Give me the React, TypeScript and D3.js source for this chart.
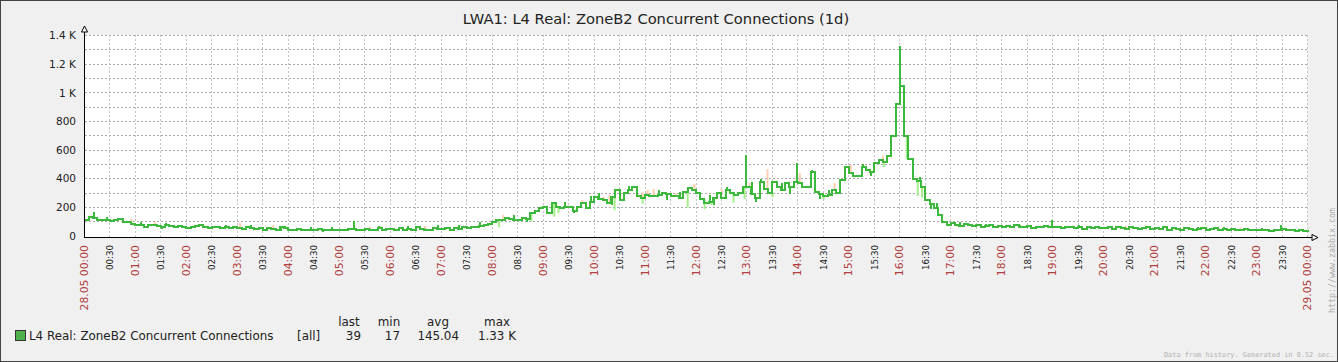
import React from 'react';
import * as d3 from 'd3';

// 5-minute averages, 28.05 00:00 -> 29.05 00:00
const avgValues: number[] = [
  115, 135, 125, 110, 110, 110, 105, 115, 120, 100, 95, 85,
  80, 75, 65, 75, 80, 70, 65, 75, 70, 65, 70, 60,
  55, 65, 70, 75, 60, 55, 60, 65, 55, 60, 55, 60,
  55, 50, 60, 55, 50, 55, 45, 55, 50, 45, 65, 55,
  45, 40, 50, 45, 40, 45, 40, 50, 45, 40, 45, 40,
  45, 40, 50, 50, 45, 40, 50, 45, 40, 55, 45, 50,
  50, 45, 55, 40, 50, 45, 60, 50, 45, 40, 55, 50,
  50, 55, 45, 55, 50, 60, 55, 65, 60, 70, 75, 85,
  95, 110, 115, 125, 120, 110, 115, 125, 120, 160, 175, 195,
  205, 160, 229, 200, 194, 200, 205, 176, 200, 229, 194, 240,
  275, 260, 252, 229, 270, 322, 252, 299, 320, 345, 280, 264,
  287, 276, 280, 287, 299, 290, 276, 280, 264, 310, 333, 320,
  299, 257, 229, 240, 264, 299, 264, 322, 300, 287, 299, 340,
  345, 290, 264, 380, 330, 299, 380, 340, 322, 369, 340, 380,
  369, 340, 345, 450, 310, 290, 276, 287, 322, 300, 392, 485,
  439, 420, 416, 485, 460, 450, 509, 532, 520, 560, 700, 920,
  1050, 700, 540, 400, 385, 340, 250, 225, 195, 150, 95, 80,
  90, 80, 70, 85, 75, 70, 80, 65, 70, 75, 65, 70,
  65, 70, 60, 75, 65, 60, 70, 55, 65, 60, 70, 65,
  65, 60, 55, 65, 60, 55, 60, 50, 65, 55, 60, 55,
  55, 60, 50, 65, 55, 50, 60, 55, 50, 55, 60, 50,
  55, 50, 60, 45, 55, 50, 45, 55, 50, 45, 50, 55,
  45, 50, 55, 45, 50, 40, 50, 45, 40, 50, 45, 40,
  40, 45, 40, 35, 40, 45, 50, 45, 40, 35, 40, 35,
  39,
];

// short bursts drawn in the line colour (up or down from the average)
const spikeTimes = [
  '00:10', '00:25', '00:40', '01:05', '01:30', '01:35', '02:15', '02:45', '03:15', '03:50', '03:55',
  '04:25', '04:40', '04:50', '05:16', '05:45', '06:20', '06:55', '07:20', '07:45', '08:25', '08:40',
  '08:50', '09:10', '09:25', '09:35', '09:55', '10:05', '10:20', '10:25', '10:40', '10:45', '11:15',
  '11:25', '11:40', '11:50', '12:15', '12:20', '12:35', '12:58', '13:05', '13:10', '13:15', '13:40',
  '13:50', '13:58', '14:15', '14:25', '14:35', '14:55', '15:15', '15:25', '15:30', '15:59', '16:22',
  '16:35', '16:42', '17:10', '17:40', '18:20', '18:58', '19:30', '20:15', '21:10', '21:50', '22:20',
  '23:05', '23:28',
];
const spikeValues = [
  165, 130, 125, 100, 50, 90, 85, 80, 75, 35, 70,
  65, 30, 65, 105, 70, 70, 75, 80, 100, 150, 95,
  170, 235, 240, 160, 280, 300, 215, 330, 350, 350, 320,
  250, 310, 345, 285, 215, 340, 567, 380, 240, 395, 370,
  290, 509, 460, 260, 320, 490, 500, 420, 520, 1330, 410,
  190, 230, 95, 85, 80, 112, 75, 70, 65, 65, 60,
  55, 75,
];

// max marks (light orange)
const maxTimes = ['00:05', '00:54', '01:22', '03:02', '03:41', '05:35', '06:40', '08:12', '09:45', '10:10', '10:17', '10:30', '10:56', '11:02', '11:09', '11:35', '11:57', '12:03', '12:29', '13:02', '13:23', '13:30', '13:49', '14:01', '14:42', '15:01', '15:39', '20:25', '22:40'];
const maxValues = [142, 119, 100, 93, 75, 65, 70, 147, 252, 275, 287, 299, 305, 322, 327, 299, 364, 299, 327, 373, 467, 381, 381, 439, 369, 497, 560, 70, 60];

// min marks (light green)
const minTimes = ['08:07', '08:45', '09:12', '09:17', '10:23', '10:56', '11:49', '12:09', '12:17', '12:43', '12:56', '13:29', '14:21', '14:29', '15:40', '16:07', '16:20', '16:25'];
const minValues = [61, 100, 135, 159, 182, 224, 200, 187, 217, 233, 257, 271, 299, 257, 481, 540, 280, 268];

const yTickValues = [0, 200, 400, 600, 800, 1000, 1200, 1400];
const yTickLabels = ['0', '200', '400', '600', '800', '1 K', '1.2 K', '1.4 K'];
const xTickLabels = [
  '28.05 00:00', '00:30', '01:00', '01:30', '02:00', '02:30', '03:00', '03:30', '04:00', '04:30',
  '05:00', '05:30', '06:00', '06:30', '07:00', '07:30', '08:00', '08:30', '09:00', '09:30',
  '10:00', '10:30', '11:00', '11:30', '12:00', '12:30', '13:00', '13:30', '14:00', '14:30',
  '15:00', '15:30', '16:00', '16:30', '17:00', '17:30', '18:00', '18:30', '19:00', '19:30',
  '20:00', '20:30', '21:00', '21:30', '22:00', '22:30', '23:00', '23:30', '29.05 00:00',
];
const legendHeaders = ['last', 'min', 'avg', 'max'];
const legendStats = ['39', '17', '145.04', '1.33 K'];

const W = 1338;
const H = 362;
const FONT = 'DejaVu Sans, sans-serif';
const LINE = '#3cb83c';

const toMin = (s: string) => {
  const [h, m] = s.split(':').map(Number);
  return h * 60 + m;
};

export default function App() {
  const x = d3.scaleLinear().domain([0, 1440]).range([84.5, 1307.5]);
  const y = d3.scaleLinear().domain([0, 1400]).range([236, 35.5]);
  const px = (v: number) => Math.floor(v) + 0.5;

  const avgAt = (m: number) => avgValues[Math.min(avgValues.length - 1, Math.floor(m / 5))];

  const line = d3.line<number>()
    .x((_, i) => x(i * 5))
    .y((d) => y(d))
    .curve(d3.curveStepAfter);

  const hGrid = d3.range(100, 1401, 100);
  const vGrid = d3.range(1, 49).map((i) => i * 30);

  const legendHeaderX = [349, 389, 438, 497];
  const legendStatX = [361, 400, 459, 516];

  return (
    <>
      <style>{'body{margin:0}'}</style>
      <svg width={W} height={H} style={{ display: 'block' }}>
        <rect x={0.5} y={0.5} width={W - 1} height={H - 1} fill="#f0f0f0" stroke="#444" />
        <text x={656} y={24} textAnchor="middle" fontFamily={FONT} fontSize={14.7} fill="#222">
          LWA1: L4 Real: ZoneB2 Concurrent Connections (1d)
        </text>

        <rect x={84.5} y={35} width={1223} height={202} fill="#fff" />

        {hGrid.map((v) => (
          <line key={'h' + v} x1={85} x2={1308} y1={px(y(v))} y2={px(y(v))}
            stroke="#a8a8a8" strokeDasharray="2,2" />
        ))}
        {vGrid.map((t) => (
          <line key={'v' + t} x1={px(x(t))} x2={px(x(t))} y1={35} y2={237}
            stroke="#c4c4c4" strokeDasharray="2,2" />
        ))}

        {maxTimes.map((t, i) => {
          const m = toMin(t);
          const top = y(maxValues[i]);
          const base = y(avgAt(m));
          return top < base ? (
            <rect key={'mx' + i} x={x(m)} y={top} width={2} height={base - top} fill="#ffcdb2" />
          ) : null;
        })}
        {minTimes.map((t, i) => {
          const m = toMin(t);
          const bot = y(minValues[i]);
          const base = y(avgAt(m));
          return bot > base ? (
            <rect key={'mn' + i} x={x(m)} y={base} width={2} height={bot - base} fill="#a4ee8c" />
          ) : null;
        })}

        <path d={line(avgValues) || ''} fill="none" stroke={LINE} strokeWidth={2} shapeRendering="crispEdges" />

        {spikeTimes.map((t, i) => {
          const m = toMin(t);
          const a = y(spikeValues[i]);
          const b = y(avgAt(m));
          return (
            <rect key={'sp' + i} x={x(m)} y={Math.min(a, b)} width={2} height={Math.abs(b - a)}
              fill={LINE} shapeRendering="crispEdges" />
          );
        })}

        {/* axes */}
        <line x1={84.5} x2={84.5} y1={31} y2={238} stroke="#000" />
        <line x1={84} x2={1312} y1={237.5} y2={237.5} stroke="#000" />
        <polygon points="81.5,32 84.5,26 87.5,32" fill="#fff" stroke="#000" />
        <polygon points="1312,234.5 1318,237.5 1312,240.5" fill="#fff" stroke="#000" />

        {yTickValues.map((v, i) => (
          <text key={'yl' + v} x={76} y={y(v)} dy="0.36em" textAnchor="end"
            fontFamily={FONT} fontSize={10.5} fill="#222">
            {yTickLabels[i]}
          </text>
        ))}

        {xTickLabels.map((lab, i) => {
          const xx = px(x(i * 30));
          const major = i % 2 === 0;
          return (
            <text key={'xl' + i} transform={`translate(${xx},245) rotate(-90)`} dy="0.36em"
              textAnchor="end" fontFamily={FONT} fontSize={major ? 10.8 : 8.7}
              fill={major ? '#b04040' : '#222'}>
              {lab}
            </text>
          );
        })}

        {/* legend */}
        <rect x={15.5} y={330.5} width={10} height={10} fill="#50b050" stroke="#333" />
        <text x={29} y={340} fontFamily={FONT} fontSize={11.9} fill="#222">
          L4 Real: ZoneB2 Concurrent Connections
        </text>
        <text x={297} y={340} fontFamily={FONT} fontSize={11.9} fill="#222">[all]</text>
        {legendHeaders.map((h, i) => (
          <text key={'lh' + h} x={legendHeaderX[i]} y={326} textAnchor="middle"
            fontFamily={FONT} fontSize={11.9} fill="#222">
            {h}
          </text>
        ))}
        {legendStats.map((s, i) => (
          <text key={'ls' + i} x={legendStatX[i]} y={340} textAnchor="end"
            fontFamily={FONT} fontSize={11.9} fill="#222">
            {s}
          </text>
        ))}

        <text transform="translate(1332,313) rotate(-90)" dy="0.36em" fontFamily="DejaVu Sans Mono, monospace"
          fontSize={8.3} fill="#aaa">
          http://www.zabbix.com
        </text>
        <text x={1334} y={357} textAnchor="end" fontFamily="DejaVu Sans Mono, monospace" fontSize={6.9} fill="#b0b0b0">
          Data from history. Generated in 0.52 sec.
        </text>
      </svg>
    </>
  );
}
